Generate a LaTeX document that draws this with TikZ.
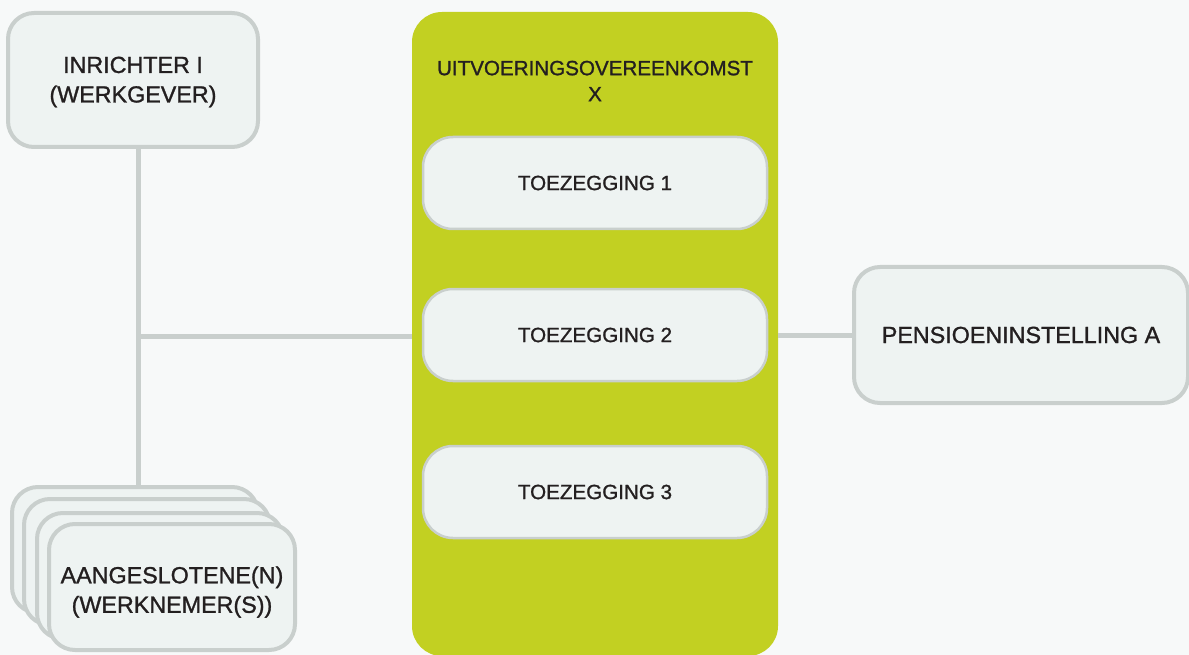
\documentclass[tikz,border=0pt]{standalone}
\usepackage{fontspec}
\setmainfont{Liberation Sans}[UprightFeatures={FakeBold=1.2}]
\definecolor{bg}{HTML}{F7F9F9}
\definecolor{boxfill}{HTML}{EEF3F2}
\definecolor{boxline}{HTML}{C9CFCD}
\definecolor{lime}{HTML}{C2D022}
\definecolor{txt}{HTML}{231F20}
\tikzset{
  lbl/.style={font=\fontsize{20.6}{26}\selectfont, text=txt, align=center},
  biglbl/.style={font=\fontsize{23.3}{29.5}\selectfont, text=txt, align=center},
  bigbox/.style={draw=boxline, line width=4pt, fill=boxfill, rounded corners=26pt, minimum width=#1, inner sep=0pt},
  smallbox/.style={draw=boxline, line width=2.5pt, fill=boxfill, rounded corners=30pt, minimum width=344pt, minimum height=92pt, inner sep=0pt},
  conn/.style={draw=boxline, line width=5pt},
}
\begin{document}
\begin{tikzpicture}[x=1pt,y=-1pt]
\fill[bg] (0,0) rectangle (1189,655);
\useasboundingbox (0,0) rectangle (1189,655);
% green container
\node[fill=lime, rounded corners=30pt, minimum width=366pt, minimum height=644pt, inner sep=0pt] (uo) at (595,334) {};
\node[lbl] (uotitle) at (595,81) {UITVOERINGSOVEREENKOMST\\X};
% junction
\coordinate (J) at (138,336);
% boxes
\node[bigbox=250pt, minimum height=134pt] (inr) at (133,80) {};
\node[biglbl] at (133,82) {INRICHTER I\\(WERKGEVER)};
\node[bigbox=246pt, minimum height=126pt] (s1) at (135,550) {};
\draw[conn] (inr.south -| J) -- (J) -- (s1.north -| J);
\draw[conn] (J) -- (uo.west |- J);
\node[bigbox=246pt, minimum height=126pt] (s2) at (147,562) {};
\node[bigbox=246pt, minimum height=126pt] (s3) at (160,576) {};
\node[bigbox=246pt, minimum height=126pt] (s4) at (172,587) {};
\node[biglbl] at (172,592) {AANGESLOTENE(N)\\(WERKNEMER(S))};
\node[bigbox=334pt, minimum height=136pt] (pen) at (1021,335) {};
\node[biglbl] at (pen) {PENSIOENINSTELLING A};
\draw[conn] (uo.east |- pen) -- (pen.west);
\node[smallbox, lbl] (t1) at (595,183) {TOEZEGGING 1};
\node[smallbox, lbl] (t2) at (595,335) {TOEZEGGING 2};
\node[smallbox, lbl] (t3) at (595,492) {TOEZEGGING 3};
\end{tikzpicture}
\end{document}
